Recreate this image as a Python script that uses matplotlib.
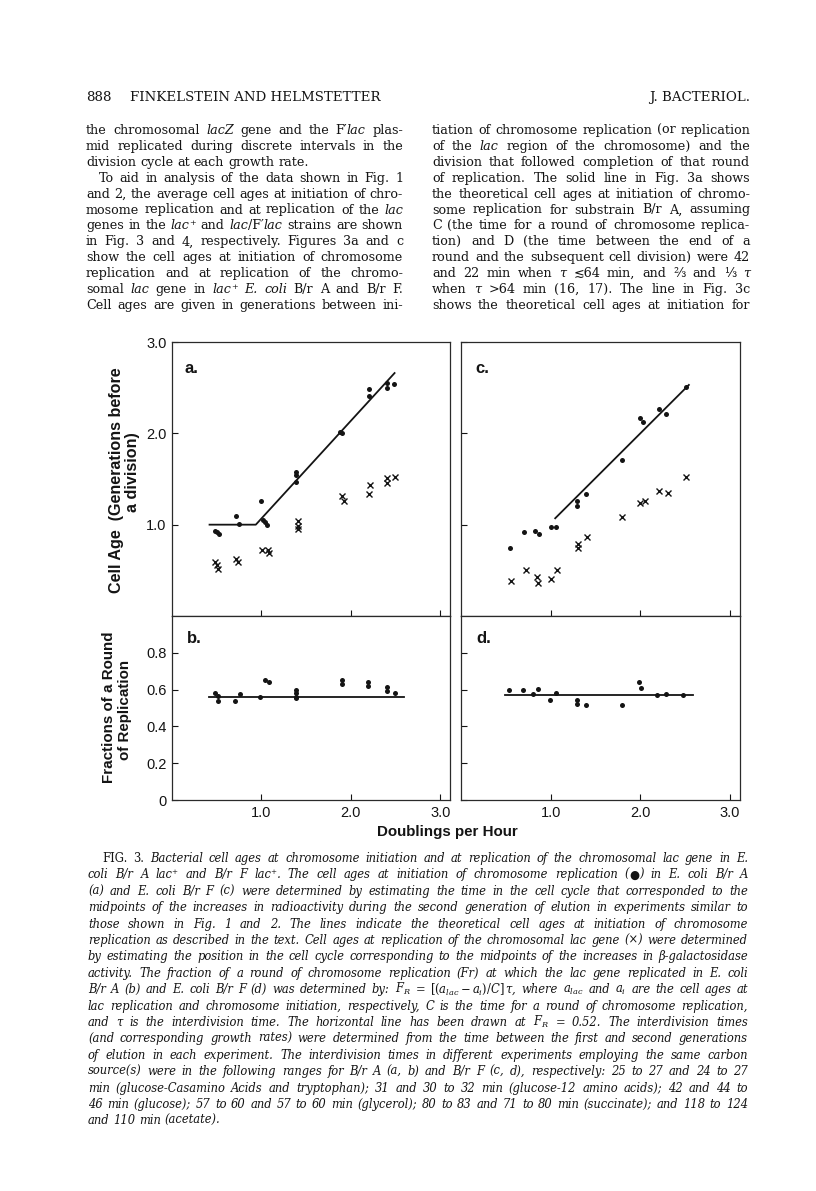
import re
import matplotlib
matplotlib.use('Agg')
import matplotlib.pyplot as plt

# ---------------- data ----------------
doublings_ticks = [1.0, 2.0, 3.0]
doublings_tick_labels = ['1.0', '2.0', '3.0']

# Panel a: E. coli B/r A -- cell age at initiation (dots) and at lac replication (crosses)
a_init_x = [0.48, 0.50, 0.53, 0.72, 0.75, 1.00, 1.02, 1.04, 1.06, 1.39, 1.39, 1.39,
            1.88, 1.90, 2.20, 2.20, 2.40, 2.40, 2.48]
a_init_y = [0.93, 0.92, 0.90, 1.09, 1.01, 1.26, 1.05, 1.03, 1.00, 1.58, 1.54, 1.47,
            2.02, 2.00, 2.48, 2.41, 2.55, 2.50, 2.54]
a_lac_x = [0.48, 0.50, 0.52, 0.72, 0.74, 1.01, 1.07, 1.08, 1.41, 1.41, 1.41,
           1.90, 1.92, 2.21, 2.20, 2.40, 2.40, 2.49]
a_lac_y = [0.59, 0.56, 0.52, 0.62, 0.59, 0.72, 0.72, 0.69, 1.04, 0.99, 0.95,
           1.31, 1.26, 1.43, 1.34, 1.51, 1.46, 1.52]
a_theory_x = [0.42, 0.9375, 2.49]
a_theory_y = [1.00, 1.00, 2.66]

# Panel c: E. coli B/r F
c_init_x = [0.55, 0.70, 0.83, 0.87, 1.00, 1.06, 1.29, 1.29, 1.39, 1.80,
            2.00, 2.03, 2.21, 2.29, 2.51]
c_init_y = [0.75, 0.92, 0.93, 0.90, 0.97, 0.97, 1.26, 1.20, 1.34, 1.71,
            2.17, 2.12, 2.27, 2.21, 2.51]
c_lac_x = [0.56, 0.72, 0.85, 0.86, 1.00, 1.07, 1.30, 1.30, 1.41, 1.80,
           1.99, 2.05, 2.21, 2.31, 2.51]
c_lac_y = [0.38, 0.50, 0.43, 0.36, 0.41, 0.50, 0.79, 0.75, 0.86, 1.08,
           1.24, 1.26, 1.37, 1.35, 1.52]
c_theory_x = [1.05, 2.54]
c_theory_y = [1.07, 2.53]

# Panel b: fraction of a round of replication, B/r A
b_x = [0.48, 0.51, 0.51, 0.70, 0.76, 0.99, 1.04, 1.08, 1.385, 1.385, 1.385, 1.385,
       1.90, 1.90, 2.19, 2.19, 2.40, 2.40, 2.50]
b_y = [0.58, 0.566, 0.54, 0.54, 0.577, 0.562, 0.65, 0.64, 0.60, 0.58, 0.562, 0.553,
       0.654, 0.63, 0.64, 0.62, 0.613, 0.59, 0.584]
b_line_x = [0.41, 2.59]
b_line_y = [0.562, 0.562]

# Panel d: fraction of a round of replication, B/r F
d_x = [0.54, 0.69, 0.80, 0.86, 0.995, 1.06, 1.29, 1.29, 1.39, 1.79, 1.98, 2.01,
       2.19, 2.29, 2.48]
d_y = [0.60, 0.597, 0.577, 0.604, 0.546, 0.58, 0.546, 0.52, 0.516, 0.516, 0.643,
       0.606, 0.571, 0.577, 0.568]
d_line_x = [0.49, 2.59]
d_line_y = [0.568, 0.568]

age_ticks = [1.0, 2.0, 3.0]
age_tick_labels = ['1.0', '2.0', '3.0']
frac_ticks = [0.0, 0.2, 0.4, 0.6, 0.8]
frac_tick_labels = ['0', '0.2', '0.4', '0.6', '0.8']

header_left = "888"
header_mid = "FINKELSTEIN AND HELMSTETTER"
header_right = "J. BACTERIOL."

left_col = [
    "the chromosomal *lacZ* gene and the F′*lac* plas-",
    "mid replicated during discrete intervals in the",
    "division cycle at each growth rate.",
    "To aid in analysis of the data shown in Fig. 1",
    "and 2, the average cell ages at initiation of chro-",
    "mosome replication and at replication of the *lac*",
    "genes in the *lac*⁺ and *lac*/F′*lac* strains are shown",
    "in Fig. 3 and 4, respectively. Figures 3a and c",
    "show the cell ages at initiation of chromosome",
    "replication and at replication of the chromo-",
    "somal *lac* gene in *lac*⁺ *E.* *coli* B/r A and B/r F.",
    "Cell ages are given in generations between ini-",
]
right_col = [
    "tiation of chromosome replication (or replication",
    "of the *lac* region of the chromosome) and the",
    "division that followed completion of that round",
    "of replication. The solid line in Fig. 3a shows",
    "the theoretical cell ages at initiation of chromo-",
    "some replication for substrain B/r A, assuming",
    "C (the time for a round of chromosome replica-",
    "tion) and D (the time between the end of a",
    "round and the subsequent cell division) were 42",
    "and 22 min when *τ* ≲64 min, and ⅔ and ⅓ *τ*",
    "when *τ* >64 min (16, 17). The line in Fig. 3c",
    "shows the theoretical cell ages at initiation for",
]
caption = [
    "*FIG.* *3.* Bacterial cell ages at chromosome initiation and at replication of the chromosomal lac gene in E.",
    "coli B/r A lac⁺ and B/r F lac⁺. The cell ages at initiation of chromosome replication (*●*) in E. coli B/r A",
    "(a) and E. coli B/r F (c) were determined by estimating the time in the cell cycle that corresponded to the",
    "midpoints of the increases in radioactivity during the second generation of elution in experiments similar to",
    "those shown in Fig. 1 and 2. The lines indicate the theoretical cell ages at initiation of chromosome",
    "replication as described in the text. Cell ages at replication of the chromosomal lac gene (×) were determined",
    "by estimating the position in the cell cycle corresponding to the midpoints of the increases in β-galactosidase",
    "activity. The fraction of a round of chromosome replication (Fr) at which the lac gene replicated in E. coli",
    r"B/r A (b) and E. coli B/r F (d) was determined by: $F_R$ = $[(a_{lac}-a_i)/C]\,\tau$, where $a_{lac}$ and $a_i$ are the cell ages at",
    "lac replication and chromosome initiation, respectively, C is the time for a round of chromosome replication,",
    r"and τ is the interdivision time. The horizontal line has been drawn at $F_R$ = 0.52. The interdivision times",
    "(and corresponding growth rates) were determined from the time between the first and second generations",
    "of elution in each experiment. The interdivision times in different experiments employing the same carbon",
    "source(s) were in the following ranges for B/r A (a, b) and B/r F (c, d), respectively: 25 to 27 and 24 to 27",
    "min (glucose-Casamino Acids and tryptophan); 31 and 30 to 32 min (glucose-12 amino acids); 42 and 44 to",
    "46 min (glucose); 57 to 60 and 57 to 60 min (glycerol); 80 to 83 and 71 to 80 min (succinate); and 118 to 124",
    "and 110 min (acetate).",
]

# ---------------- styling / helpers ----------------
plt.rcParams['font.family'] = ['Liberation Sans', 'DejaVu Sans']
plt.rcParams['mathtext.fontset'] = 'dejavuserif'
SERIF = ['DejaVu Serif', 'DejaVu Sans']
SANS = ['Liberation Sans', 'DejaVu Sans']
INK = '#141414'

W, H = 816, 1191
fig = plt.figure(figsize=(W / 100, H / 100), dpi=100)
fig.patch.set_facecolor('white')
renderer = fig.canvas.get_renderer()


def fx(px):
    return px / W


def fy(py):
    return 1 - py / H


def text_width(s, **kw):
    t = fig.text(0, 0, s, **kw)
    w = t.get_window_extent(renderer).width
    t.remove()
    return w


def parse(word, base):
    out = []
    for p in re.split(r'(\*[^*]*\*)', word):
        if not p:
            continue
        if p.startswith('*') and p.endswith('*') and len(p) > 1:
            out.append((p[1:-1], 'italic' if base == 'normal' else 'normal'))
        else:
            out.append((p, base))
    return out


def natural_width(line, size, base, family):
    words = [parse(w, base) for w in line.split(' ')]
    sp = text_width('a a', fontsize=size, family=family) - text_width('aa', fontsize=size, family=family)
    tot = 0
    for pw in words:
        for s, st in pw:
            tot += text_width(s, fontsize=size, fontstyle=st, family=family)
    return tot + sp * (len(words) - 1)


def draw_line(line, x0, x1, yb, size, base='normal', justify=True, family=SERIF):
    words = [parse(w, base) for w in line.split(' ')]
    widths = [[text_width(s, fontsize=size, fontstyle=st, family=family) for s, st in pw] for pw in words]
    wsum = sum(sum(w) for w in widths)
    sp = text_width('a a', fontsize=size, family=family) - text_width('aa', fontsize=size, family=family)
    n = len(words) - 1
    gap = ((x1 - x0) - wsum) / n if (justify and n > 0) else sp
    x = x0
    for pw, ws in zip(words, widths):
        for (s, st), w in zip(pw, ws):
            fig.text(fx(x), fy(yb), s, fontsize=size, fontstyle=st, family=family,
                     ha='left', va='baseline', color=INK)
            x += w
        x += gap


def fit_size(s, target, family, weight='normal'):
    return 10 * target / text_width(s, fontsize=10, family=family, fontweight=weight)


# ---------------- page text ----------------
LX0, LX1 = 86, 403
RX0, RX1 = 432, 750
body_size = min(10 * (LX1 - LX0) / max(natural_width(l, 10, 'normal', SERIF) for l in left_col),
                10 * (RX1 - RX0) / max(natural_width(l, 10, 'normal', SERIF) for l in right_col))

fig.text(fx(LX0), fy(101), header_left, fontsize=body_size * 1.05, family=SERIF, ha='left', va='baseline', color=INK)
fig.text(fx(LX0 + 44), fy(101), header_mid, fontsize=body_size * 1.05, family=SERIF, ha='left', va='baseline', color=INK)
fig.text(fx(RX1), fy(101), header_right, fontsize=body_size * 1.05, family=SERIF, ha='right', va='baseline', color=INK)

for i, line in enumerate(left_col):
    yb = 130 + 15.9 * i + 4
    indent = 13 if i == 3 else 0
    draw_line(line, LX0 + indent, LX1, yb, body_size, justify=(i != 2))
for i, line in enumerate(right_col):
    yb = 130 + 15.9 * i + 4
    draw_line(line, RX0, RX1, yb, body_size, justify=True)

CX0, CX1 = 88, 748
cap_size = 10 * (CX1 - CX0 - 14) / max(natural_width(l, 10, 'italic', SERIF) for l in caption[:-1])
for i, line in enumerate(caption):
    yb = 858 + 16.4 * i + 4
    indent = 14 if i == 0 else 0
    draw_line(line, CX0 + indent, CX1, yb, cap_size, base='italic',
              justify=(i != len(caption) - 1))

# ---------------- chart ----------------
XLIM = (0, 3.11)
ax_a = fig.add_axes([fx(172), fy(616), (450 - 172) / W, (616 - 342) / H])
ax_c = fig.add_axes([fx(461), fy(616), (740 - 461) / W, (616 - 342) / H])
ax_b = fig.add_axes([fx(172), fy(800), (450 - 172) / W, (800 - 616) / H])
ax_d = fig.add_axes([fx(461), fy(800), (740 - 461) / W, (800 - 616) / H])


def style_axes(ax, yticks, ylabels, show_y, show_x, ylim):
    ax.set_xlim(*XLIM)
    ax.set_ylim(*ylim)
    ax.set_xticks(doublings_ticks)
    ax.set_yticks(yticks)
    ax.set_xticklabels(doublings_tick_labels if show_x else [])
    ax.set_yticklabels(ylabels if show_y else [])
    ax.tick_params(direction='in', length=4, width=0.8, pad=4, labelsize=10.5,
                   colors=INK)
    for sp in ax.spines.values():
        sp.set_linewidth(0.9)
        sp.set_color('#2a2a2a')


style_axes(ax_a, age_ticks, age_tick_labels, True, False, (0, 3.0))
style_axes(ax_c, age_ticks, age_tick_labels, False, False, (0, 3.0))
style_axes(ax_b, frac_ticks, frac_tick_labels, True, True, (0, 1.0))
style_axes(ax_d, frac_ticks, frac_tick_labels, False, True, (0, 1.0))

dot_kw = dict(linestyle='none', marker='o', ms=3.6, color=INK, mec='none')
x_kw = dict(linestyle='none', marker='x', ms=4.2, mew=1.0, color=INK)
line_kw = dict(color=INK, lw=1.3)

ax_a.plot(a_theory_x, a_theory_y, **line_kw)
ax_a.plot(a_init_x, a_init_y, **dot_kw)
ax_a.plot(a_lac_x, a_lac_y, **x_kw)

ax_c.plot(c_theory_x, c_theory_y, **line_kw)
ax_c.plot(c_init_x, c_init_y, **dot_kw)
ax_c.plot(c_lac_x, c_lac_y, **x_kw)

ax_b.plot(b_line_x, b_line_y, **line_kw)
ax_b.plot(b_x, b_y, **dot_kw)

ax_d.plot(d_line_x, d_line_y, **line_kw)
ax_d.plot(d_x, d_y, **dot_kw)

# panel letters
ax_a.text(0.045, 0.905, 'a.', transform=ax_a.transAxes, fontsize=12, fontweight='bold',
          ha='left', va='center', color=INK)
ax_c.text(0.05, 0.905, 'c.', transform=ax_c.transAxes, fontsize=12, fontweight='bold',
          ha='left', va='center', color=INK)
ax_b.text(0.055, 0.88, 'b.', transform=ax_b.transAxes, fontsize=12, fontweight='bold',
          ha='left', va='center', color=INK)
ax_d.text(0.055, 0.88, 'd.', transform=ax_d.transAxes, fontsize=12, fontweight='bold',
          ha='left', va='center', color=INK)

# axis titles
yl1 = "Cell Age  (Generations before"
yl2 = "a division)"
s1 = fit_size(yl1, 227, SANS, 'bold')
fig.text(fx(116), fy(480), yl1, rotation=90, fontsize=s1, fontweight='bold', family=SANS,
         ha='center', va='center', color=INK)
fig.text(fx(133), fy(472), yl2, rotation=90, fontsize=s1, fontweight='bold', family=SANS,
         ha='center', va='center', color=INK)

yl3 = "Fractions of a Round"
yl4 = "of Replication"
s3 = fit_size(yl3, 151, SANS, 'bold')
fig.text(fx(109), fy(707), yl3, rotation=90, fontsize=s3, fontweight='bold', family=SANS,
         ha='center', va='center', color=INK)
fig.text(fx(125), fy(710), yl4, rotation=90, fontsize=s3, fontweight='bold', family=SANS,
         ha='center', va='center', color=INK)

xl = "Doublings per Hour"
sx = fit_size(xl, 141, SANS, 'bold')
fig.text(fx(447), fy(832), xl, fontsize=sx, fontweight='bold', family=SANS, ha='center', va='center', color=INK)

fig.savefig('out.png', dpi=100, facecolor='white')
